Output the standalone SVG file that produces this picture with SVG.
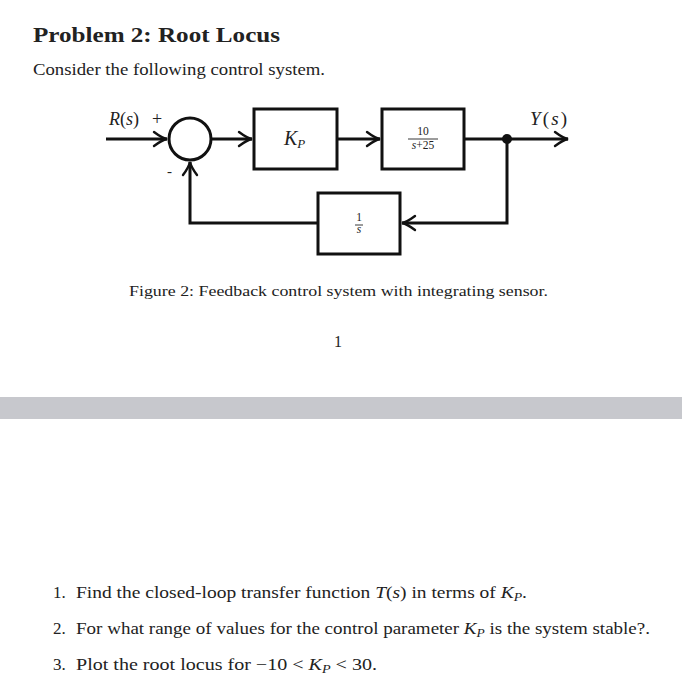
<svg xmlns="http://www.w3.org/2000/svg" width="683" height="700" viewBox="0 0 683 700">
<style>
text{font-family:"Liberation Serif","DejaVu Serif",serif;fill:#222}
.it{font-style:italic}
.ln{stroke:#111;stroke-width:3;fill:none}
.bx{stroke:#111;stroke-width:3;fill:#fff}
.sm{font-size:11.5px}
</style>
<defs>
<marker id="arr" markerUnits="userSpaceOnUse" markerWidth="20" markerHeight="20" viewBox="-15 -10 17 20" refX="0" refY="0" orient="auto">
<path d="M-13,-7 Q-5,-1 0,0 Q-5,1 -13,7" fill="none" stroke="#111" stroke-width="2.4" stroke-linecap="round"/>
</marker>
</defs>
<rect width="683" height="700" fill="#fff"/>
<text x="33" y="42" font-size="21" font-weight="bold" textLength="247" lengthAdjust="spacingAndGlyphs">Problem 2: Root Locus</text>
<text x="33" y="75" font-size="17" textLength="292" lengthAdjust="spacingAndGlyphs">Consider the following control system.</text>

<g id="connectors">
<line class="ln" x1="106" y1="139" x2="167" y2="139" marker-end="url(#arr)"/>
<line class="ln" x1="211" y1="139" x2="252" y2="139" marker-end="url(#arr)"/>
<line class="ln" x1="337" y1="139" x2="380" y2="139" marker-end="url(#arr)"/>
<line class="ln" x1="464" y1="139" x2="568" y2="139" marker-end="url(#arr)"/>
<polyline class="ln" points="507,139 507,223 402,223" marker-end="url(#arr)"/>
<polyline class="ln" points="318,223 190,223 190,162" marker-end="url(#arr)"/>
<circle cx="507" cy="139" r="5" fill="#111"/>
</g>

<g id="sum">
<circle cx="190" cy="139" r="21" class="bx"/>
<text x="109" y="125" font-size="18"><tspan class="it">R</tspan>(<tspan class="it">s</tspan>)</text>
<text x="152" y="125" font-size="18">+</text>
<text x="167" y="176" font-size="15">-</text>
</g>

<g id="kp">
<rect x="254" y="109" width="83" height="60" class="bx"/>
<text x="284" y="145" font-size="20" class="it">K<tspan font-size="13" dy="3">P</tspan></text>
</g>

<g id="plant">
<rect x="382" y="109" width="82" height="60" class="bx"/>
<text x="423" y="135" class="sm" text-anchor="middle">10</text>
<line x1="408" y1="139" x2="438" y2="139" stroke="#222" stroke-width="0.9"/>
<text x="423" y="149" class="sm" text-anchor="middle"><tspan class="it">s</tspan>+25</text>
</g>

<g id="sensor">
<rect x="318" y="193" width="82" height="61" class="bx"/>
<text x="359" y="221" class="sm" text-anchor="middle">1</text>
<line x1="355" y1="225" x2="363" y2="225" stroke="#222" stroke-width="0.9"/>
<text x="359" y="233" class="sm it" text-anchor="middle">s</text>
</g>

<g id="output">
<text x="530" y="125" font-size="19" textLength="37" lengthAdjust="spacing"><tspan class="it">Y</tspan>(<tspan class="it">s</tspan>)</text>
</g>

<text x="129" y="296" font-size="15" textLength="419" lengthAdjust="spacingAndGlyphs">Figure 2: Feedback control system with integrating sensor.</text>
<text x="338" y="347" font-size="16" text-anchor="middle">1</text>

<rect x="0" y="397" width="682" height="22" fill="#c7c8cd"/>

<text x="53" y="598" font-size="17">1.</text>
<text x="76" y="598" font-size="17" textLength="451" lengthAdjust="spacingAndGlyphs">Find the closed-loop transfer function <tspan class="it">T</tspan>(<tspan class="it">s</tspan>) in terms of <tspan class="it">K</tspan><tspan class="it" font-size="12" dy="3">P</tspan><tspan dy="-3">.</tspan></text>
<text x="53" y="634" font-size="17">2.</text>
<text x="76" y="634" font-size="17" textLength="574" lengthAdjust="spacingAndGlyphs">For what range of values for the control parameter <tspan class="it">K</tspan><tspan class="it" font-size="12" dy="3">P</tspan><tspan dy="-3"> is the system stable?.</tspan></text>
<text x="53" y="670" font-size="17">3.</text>
<text x="76" y="670" font-size="17" textLength="301" lengthAdjust="spacingAndGlyphs">Plot the root locus for −10 &lt; <tspan class="it">K</tspan><tspan class="it" font-size="12" dy="3">P</tspan><tspan dy="-3"> &lt; 30.</tspan></text>
</svg>
